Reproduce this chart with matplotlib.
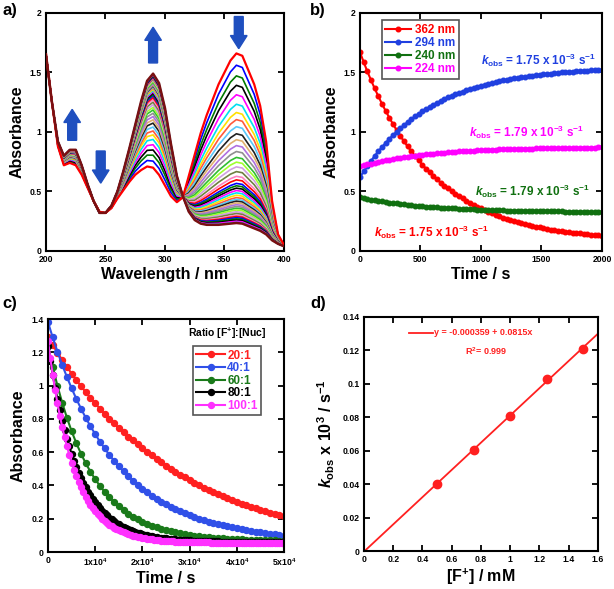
import matplotlib
matplotlib.use("Agg")
import matplotlib.pyplot as plt
import numpy as np

plt.rcParams['font.family'] = ['Liberation Sans', 'DejaVu Sans']
plt.rcParams['font.weight'] = 'bold'
plt.rcParams['axes.labelweight'] = 'bold'
plt.rcParams['mathtext.fontset'] = 'custom'
plt.rcParams['mathtext.rm'] = 'Liberation Sans:bold'
plt.rcParams['mathtext.it'] = 'Liberation Sans:italic:bold'
plt.rcParams['mathtext.bf'] = 'Liberation Sans:bold'

# ---------------- a) UV-vis spectra ----------------
wavelength = [200, 205, 210, 215, 220, 225, 230, 235, 240, 245, 250, 255, 260, 265,
              270, 275, 280, 285, 290, 295, 300, 305, 310, 315, 320, 325, 330, 335,
              340, 345, 350, 355, 360, 365, 370, 375, 380, 385, 390, 395, 400]
spec_first = [1.65, 1.25, 0.88, 0.72, 0.74, 0.72, 0.64, 0.53, 0.42, 0.33, 0.32, 0.36,
              0.44, 0.51, 0.58, 0.64, 0.68, 0.71, 0.70, 0.64, 0.55, 0.46, 0.41, 0.45,
              0.63, 0.81, 0.99, 1.14, 1.27, 1.40, 1.50, 1.60, 1.66, 1.64, 1.52, 1.40,
              1.22, 0.92, 0.42, 0.14, 0.05]
spec_last = [1.65, 1.25, 0.92, 0.80, 0.85, 0.85, 0.72, 0.56, 0.42, 0.32, 0.32, 0.38,
             0.50, 0.67, 0.86, 1.06, 1.26, 1.43, 1.49, 1.41, 1.20, 0.90, 0.63, 0.46,
             0.33, 0.26, 0.23, 0.22, 0.22, 0.22, 0.225, 0.23, 0.235, 0.23, 0.21, 0.19,
             0.17, 0.14, 0.09, 0.06, 0.04]
# absorbance of each recorded spectrum at 362 nm, read top to bottom
peak_362 = [1.67, 1.57, 1.48, 1.40, 1.32, 1.24, 1.17, 1.11, 1.05, 0.99, 0.94, 0.89,
            0.84, 0.79, 0.75, 0.71, 0.67, 0.63, 0.60, 0.57, 0.55, 0.53, 0.51, 0.49,
            0.47, 0.45, 0.435, 0.42, 0.405, 0.39, 0.375, 0.36, 0.345, 0.33, 0.315,
            0.30, 0.29, 0.28, 0.27, 0.26, 0.25, 0.24, 0.235]
spec_colors = ['#ff0000', '#0000ff', '#007a00', '#000000', '#ff00ff', '#00e0f0',
               '#ffe000', '#ff5a3c', '#5ac8fa', '#202020', '#e0b070', '#b070e0',
               '#909090', '#30c030', '#a0ff30', '#d0a0e0', '#708040', '#ff80c0']

# ---------------- b) kinetic traces ----------------
time_b = np.linspace(0, 2000, 67)
abs_362 = [1.670, 1.588, 1.509, 1.436, 1.366, 1.300, 1.236, 1.177, 1.120, 1.066, 1.015,
           0.967, 0.921, 0.878, 0.837, 0.797, 0.761, 0.726, 0.692, 0.660, 0.630, 0.602,
           0.574, 0.549, 0.525, 0.503, 0.481, 0.460, 0.441, 0.422, 0.404, 0.387, 0.371,
           0.357, 0.342, 0.328, 0.315, 0.304, 0.291, 0.280, 0.271, 0.261, 0.252, 0.242,
           0.234, 0.226, 0.218, 0.212, 0.204, 0.198, 0.193, 0.187, 0.180, 0.175, 0.171,
           0.166, 0.161, 0.158, 0.153, 0.150, 0.147, 0.142, 0.139, 0.136, 0.134, 0.131,
           0.128]
abs_294 = [0.620, 0.668, 0.714, 0.757, 0.798, 0.837, 0.874, 0.908, 0.942, 0.973, 1.003,
           1.031, 1.058, 1.083, 1.107, 1.131, 1.152, 1.172, 1.192, 1.211, 1.228, 1.245,
           1.261, 1.276, 1.290, 1.303, 1.316, 1.328, 1.339, 1.350, 1.360, 1.371, 1.380,
           1.388, 1.397, 1.405, 1.412, 1.419, 1.426, 1.433, 1.438, 1.444, 1.450, 1.455,
           1.460, 1.464, 1.469, 1.473, 1.477, 1.481, 1.484, 1.488, 1.491, 1.494, 1.497,
           1.500, 1.503, 1.504, 1.507, 1.509, 1.511, 1.514, 1.516, 1.517, 1.518, 1.520,
           1.522]
abs_240 = [0.450, 0.444, 0.437, 0.432, 0.426, 0.421, 0.416, 0.411, 0.407, 0.403, 0.399,
           0.395, 0.391, 0.388, 0.385, 0.381, 0.379, 0.376, 0.373, 0.371, 0.368, 0.366,
           0.364, 0.362, 0.360, 0.358, 0.357, 0.355, 0.353, 0.352, 0.351, 0.349, 0.348,
           0.347, 0.346, 0.345, 0.344, 0.343, 0.342, 0.341, 0.340, 0.339, 0.339, 0.338,
           0.337, 0.337, 0.336, 0.335, 0.335, 0.334, 0.334, 0.333, 0.333, 0.333, 0.332,
           0.332, 0.331, 0.331, 0.331, 0.331, 0.330, 0.330, 0.330, 0.329, 0.329, 0.329,
           0.329]
abs_224 = [0.710, 0.719, 0.727, 0.734, 0.742, 0.748, 0.755, 0.761, 0.767, 0.773, 0.778,
           0.783, 0.788, 0.792, 0.796, 0.801, 0.804, 0.808, 0.811, 0.815, 0.818, 0.821,
           0.824, 0.826, 0.829, 0.831, 0.833, 0.836, 0.838, 0.840, 0.841, 0.843, 0.845,
           0.846, 0.848, 0.849, 0.851, 0.852, 0.853, 0.854, 0.855, 0.856, 0.857, 0.858,
           0.859, 0.860, 0.861, 0.861, 0.862, 0.863, 0.863, 0.864, 0.865, 0.865, 0.866,
           0.866, 0.867, 0.867, 0.867, 0.868, 0.868, 0.869, 0.869, 0.869, 0.869, 0.870,
           0.870]
kobs_labels = [r"$k_{\mathrm{obs}}$ = 1.75 x 10$^{-3}$ s$^{-1}$",
               r"$k_{\mathrm{obs}}$ = 1.75 x 10$^{-3}$ s$^{-1}$",
               r"$k_{\mathrm{obs}}$ = 1.79 x 10$^{-3}$ s$^{-1}$",
               r"$k_{\mathrm{obs}}$ = 1.79 x 10$^{-3}$ s$^{-1}$"]

# ---------------- c) ratio dependence ----------------
time_c = np.arange(0, 50001, 1000)
time_c_fine = np.arange(0, 50001, 500)
abs_20 = [1.290, 1.243, 1.198, 1.154, 1.112, 1.072, 1.033, 0.996, 0.960, 0.926, 0.893,
          0.861, 0.830, 0.801, 0.773, 0.745, 0.719, 0.694, 0.670, 0.646, 0.624, 0.602,
          0.580, 0.559, 0.538, 0.519, 0.500, 0.482, 0.465, 0.448, 0.432, 0.416, 0.401,
          0.387, 0.373, 0.360, 0.347, 0.335, 0.323, 0.312, 0.301, 0.291, 0.281, 0.271,
          0.262, 0.253, 0.245, 0.237, 0.229, 0.222, 0.215]
abs_40 = [1.380, 1.289, 1.204, 1.125, 1.052, 0.984, 0.920, 0.861, 0.806, 0.755, 0.708,
          0.663, 0.622, 0.584, 0.548, 0.515, 0.484, 0.455, 0.428, 0.404, 0.380, 0.359,
          0.339, 0.320, 0.303, 0.287, 0.271, 0.257, 0.244, 0.232, 0.221, 0.211, 0.201,
          0.192, 0.183, 0.175, 0.168, 0.161, 0.155, 0.149, 0.143, 0.138, 0.133, 0.128,
          0.123, 0.118, 0.114, 0.110, 0.106, 0.102, 0.098]
abs_60 = [1.240, 1.112, 0.999, 0.897, 0.807, 0.726, 0.654, 0.590, 0.533, 0.482, 0.437,
          0.397, 0.361, 0.329, 0.300, 0.274, 0.252, 0.231, 0.213, 0.197, 0.183, 0.170,
          0.159, 0.148, 0.139, 0.131, 0.124, 0.118, 0.112, 0.107, 0.102, 0.098, 0.095,
          0.091, 0.089, 0.086, 0.084, 0.082, 0.080, 0.078, 0.077, 0.076, 0.074, 0.073,
          0.072, 0.072, 0.071, 0.070, 0.070, 0.069, 0.069]
abs_80 = [1.240, 1.149, 1.065, 0.988, 0.917, 0.851, 0.790, 0.734, 0.682, 0.634, 0.590,
          0.549, 0.512, 0.477, 0.445, 0.415, 0.388, 0.363, 0.340, 0.318, 0.298, 0.280,
          0.263, 0.247, 0.233, 0.220, 0.207, 0.196, 0.186, 0.176, 0.167, 0.159, 0.151,
          0.144, 0.138, 0.132, 0.126, 0.121, 0.116, 0.112, 0.108, 0.104, 0.101, 0.098,
          0.095, 0.092, 0.090, 0.087, 0.085, 0.083, 0.082, 0.080, 0.078, 0.077, 0.076,
          0.075, 0.073, 0.072, 0.071, 0.071, 0.070, 0.069, 0.068, 0.068, 0.067, 0.066,
          0.066, 0.066, 0.065, 0.065, 0.064, 0.064, 0.064, 0.063, 0.063, 0.063, 0.063,
          0.063, 0.062, 0.062, 0.062, 0.062, 0.062, 0.062, 0.061, 0.061, 0.061, 0.061,
          0.061, 0.061, 0.061, 0.061, 0.061, 0.060, 0.060, 0.060, 0.060, 0.060, 0.060,
          0.060, 0.060]
abs_100 = [1.270, 1.163, 1.065, 0.976, 0.894, 0.820, 0.753, 0.691, 0.635, 0.584, 0.537,
           0.494, 0.455, 0.420, 0.388, 0.358, 0.332, 0.307, 0.285, 0.265, 0.246, 0.229,
           0.214, 0.200, 0.187, 0.175, 0.165, 0.155, 0.146, 0.138, 0.131, 0.124, 0.118,
           0.112, 0.107, 0.103, 0.098, 0.095, 0.091, 0.088, 0.085, 0.082, 0.080, 0.078,
           0.076, 0.074, 0.072, 0.071, 0.069, 0.068, 0.067, 0.066, 0.065, 0.064, 0.063,
           0.063, 0.062, 0.061, 0.061, 0.060, 0.060, 0.060, 0.059, 0.059, 0.059, 0.058,
           0.058, 0.058, 0.058, 0.057, 0.057, 0.057, 0.057, 0.057, 0.057, 0.056, 0.056,
           0.056, 0.056, 0.056, 0.056, 0.056, 0.056, 0.056, 0.056, 0.056, 0.056, 0.056,
           0.056, 0.056, 0.056, 0.056, 0.056, 0.056, 0.056, 0.056, 0.056, 0.056, 0.056,
           0.056, 0.056]

# ---------------- d) kobs vs [F+] ----------------
conc_f = [0.5, 0.75, 1.0, 1.25, 1.5]
kobs_d = [0.0403, 0.0602, 0.0810, 0.1032, 0.1207]
fit_intercept = -0.000359
fit_slope = 0.0815


def style(ax):
    for s in ax.spines.values():
        s.set_linewidth(1.5)
    ax.tick_params(direction='in', top=True, right=True, length=4, width=1.3,
                   labelsize=6.2, pad=3)


fig = plt.figure(figsize=(6.14, 5.89), dpi=100)
ax_a = fig.add_axes([0.0749, 0.5739, 0.3876, 0.4041])
ax_b = fig.add_axes([0.5863, 0.5739, 0.3941, 0.4041])
ax_c = fig.add_axes([0.0782, 0.0628, 0.3844, 0.3956])
ax_d = fig.add_axes([0.5928, 0.0645, 0.3811, 0.3973])

# a)
first = np.array(spec_first)
last = np.array(spec_last)
n_spec = len(peak_362)
for i, p in enumerate(peak_362):
    frac = (peak_362[0] - p) / (peak_362[0] - peak_362[-1])
    if i == 0:
        col, lw = '#ff0000', 1.6
    elif i == n_spec - 1:
        col, lw = '#7a1010', 1.8
    else:
        col, lw = spec_colors[i % len(spec_colors)], 1.2
    ax_a.plot(wavelength, first + frac * (last - first), color=col, lw=lw,
              zorder=3 if i in (0, n_spec - 1) else 2)
arrow_kw = dict(width=7.5, head_width=14, head_length=0.11, color='#1f4fbf',
                length_includes_head=True, zorder=5)
ax_a.arrow(222, 0.93, 0, 0.26, **arrow_kw)
ax_a.arrow(246, 0.84, 0, -0.27, **arrow_kw)
ax_a.arrow(290, 1.58, 0, 0.30, **arrow_kw)
ax_a.arrow(362, 1.97, 0, -0.27, **arrow_kw)
ax_a.set_xlim(200, 400)
ax_a.set_ylim(0, 2)
ax_a.set_xticks([200, 250, 300, 350, 400])
ax_a.set_yticks([0, 0.5, 1, 1.5, 2])
ax_a.set_yticklabels(['0', '0.5', '1', '1.5', '2'])
ax_a.set_xlabel('Wavelength / nm', fontsize=11.5, labelpad=2)
ax_a.set_ylabel('Absorbance', fontsize=11.5, labelpad=4)
style(ax_a)

# b)
series_b = [(abs_362, '#ff0000', '362 nm'), (abs_294, '#2040e0', '294 nm'),
            (abs_240, '#107010', '240 nm'), (abs_224, '#ff00ff', '224 nm')]
for vals, col, lab in series_b:
    ax_b.plot(time_b, vals, color=col, lw=1.5, marker='o', ms=3.3, label=lab)
leg = ax_b.legend(loc='upper left', bbox_to_anchor=(0.09, 0.97), borderaxespad=0,
                  fontsize=8.5, labelcolor='linecolor', fancybox=False,
                  handlelength=2.2, handletextpad=0.3, labelspacing=0.1,
                  borderpad=0.3, framealpha=1)
leg.get_frame().set_edgecolor('#555555')
leg.get_frame().set_linewidth(1.2)
kobs_pos = [(0.50, 0.80, '#2040e0'), (0.058, 0.08, '#ff0000'),
            (0.475, 0.25, '#107010'), (0.45, 0.50, '#ff00ff')]
for lab, (x, y, col) in zip(kobs_labels, kobs_pos):
    ax_b.text(x, y, lab, transform=ax_b.transAxes, color=col, fontsize=8.5,
              va='center')
ax_b.set_xlim(0, 2000)
ax_b.set_ylim(0, 2)
ax_b.set_xticks([0, 500, 1000, 1500, 2000])
ax_b.set_yticks([0, 0.5, 1, 1.5, 2])
ax_b.set_yticklabels(['0', '0.5', '1', '1.5', '2'])
ax_b.set_xlabel('Time / s', fontsize=11.5, labelpad=2)
ax_b.set_ylabel('Absorbance', fontsize=11.5, labelpad=4)
style(ax_b)

# c)
series_c = [(time_c, abs_20, '#ff2020', '20:1'), (time_c, abs_40, '#3050e8', '40:1'),
            (time_c, abs_60, '#1a7a1a', '60:1'), (time_c_fine, abs_80, '#000000', '80:1'),
            (time_c_fine, abs_100, '#ff30ff', '100:1')]
for t, vals, col, lab in series_c:
    ax_c.plot(t, vals, color=col, lw=1.5, marker='o', ms=4.3, label=lab)
leg = ax_c.legend(loc='upper left', bbox_to_anchor=(0.614, 0.884), borderaxespad=0,
                  fontsize=8.5, labelcolor='linecolor', fancybox=False,
                  handlelength=2.4, handletextpad=0.2, labelspacing=0.05,
                  borderpad=0.3, framealpha=1)
leg.get_frame().set_edgecolor('#555555')
leg.get_frame().set_linewidth(1.2)
ax_c.text(0.758, 0.94, r'Ratio [F$^{+}$]:[Nuc]', transform=ax_c.transAxes,
          fontsize=7.5, ha='center', va='center')
ax_c.set_xlim(0, 50000)
ax_c.set_ylim(0, 1.4)
ax_c.set_xticks([0, 10000, 20000, 30000, 40000, 50000])
ax_c.set_xticklabels(['0', r'1x10$^4$', r'2x10$^4$', r'3x10$^4$', r'4x10$^4$',
                      r'5x10$^4$'])
ax_c.set_yticks([0, 0.2, 0.4, 0.6, 0.8, 1.0, 1.2, 1.4])
ax_c.set_yticklabels(['0', '0.2', '0.4', '0.6', '0.8', '1', '1.2', '1.4'])
ax_c.set_xlabel('Time / s', fontsize=11.5, labelpad=2)
ax_c.set_ylabel('Absorbance', fontsize=11.5, labelpad=4)
style(ax_c)

# d)
fit_x = np.array([0, 1.6])
ax_d.plot(fit_x, fit_intercept + fit_slope * fit_x, color='#ff2020', lw=1.3)
ax_d.plot(conc_f, kobs_d, 'o', color='#ff2020', ms=6)
ax_d.plot([0.192, 0.295], [0.932, 0.932], color='#ff2020', lw=1.3,
          transform=ax_d.transAxes)
ax_d.text(0.30, 0.932, 'y = -0.000359 + 0.0815x', transform=ax_d.transAxes,
          color='#ff2020', fontsize=6.5, va='center')
ax_d.text(0.521, 0.855, r'R$^2$= 0.999', transform=ax_d.transAxes,
          color='#ff2020', fontsize=6.5, va='center', ha='center')
ax_d.set_xlim(0, 1.6)
ax_d.set_ylim(0, 0.14)
ax_d.set_xticks([0, 0.2, 0.4, 0.6, 0.8, 1.0, 1.2, 1.4, 1.6])
ax_d.set_xticklabels(['0', '0.2', '0.4', '0.6', '0.8', '1', '1.2', '1.4', '1.6'])
ax_d.set_yticks([0, 0.02, 0.04, 0.06, 0.08, 0.1, 0.12, 0.14])
ax_d.set_yticklabels(['0', '0.02', '0.04', '0.06', '0.08', '0.1', '0.12', '0.14'])
ax_d.set_xlabel(r'[F$^{+}$] / mM', fontsize=11.5, labelpad=2)
ax_d.set_ylabel(r'$k_{\mathrm{obs}}$ x 10$^{3}$ / s$^{-1}$', fontsize=11.5,
                labelpad=4)
style(ax_d)

for lab, x, y in [('a)', 0.004, 0.995), ('b)', 0.505, 0.995),
                  ('c)', 0.004, 0.497), ('d)', 0.505, 0.497)]:
    fig.text(x, y, lab, fontsize=12, va='top', ha='left')

fig.savefig('out.png', dpi=100)
